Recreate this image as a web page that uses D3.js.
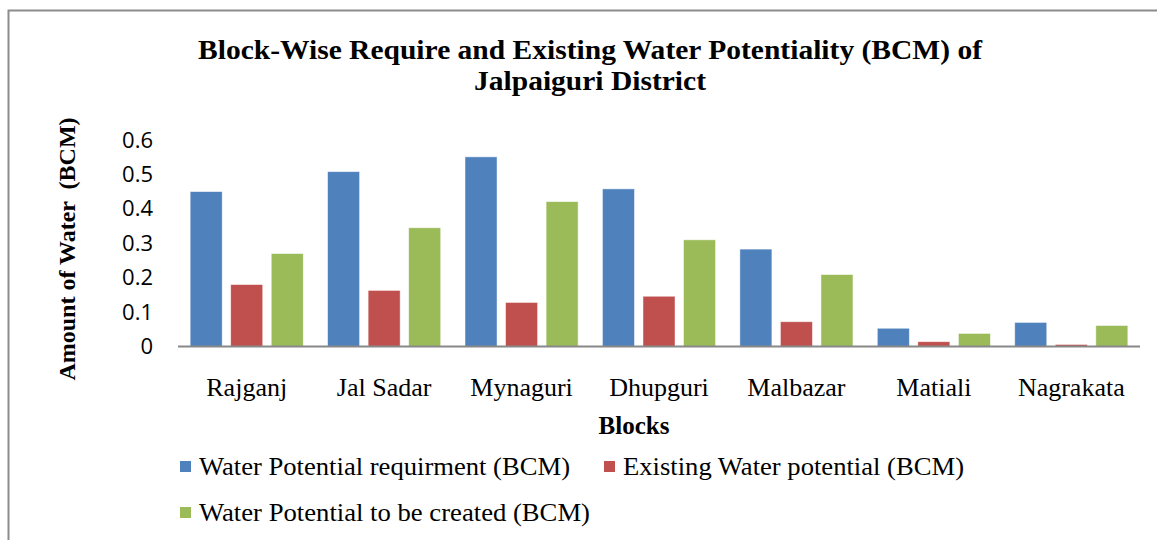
<!DOCTYPE html>
<html>
<head>
<meta charset="utf-8">
<script src="https://cdn.jsdelivr.net/npm/d3@7"></script>
<style>
  body { margin: 0; background: #fff; }
  svg { display: block; }
</style>
</head>
<body>
<div id="chart"></div>
<script>
const blocks = ["Rajganj", "Jal Sadar", "Mynaguri", "Dhupguri", "Malbazar", "Matiali", "Nagrakata"]
const seriesNames = ["Water Potential requirment (BCM)", "Existing Water potential (BCM)", "Water Potential to be created (BCM)"]
const requirment = [0.45, 0.508, 0.551, 0.458, 0.283, 0.053, 0.070]
const existing = [0.18, 0.163, 0.128, 0.146, 0.072, 0.014, 0.006]
const toBeCreated = [0.27, 0.345, 0.421, 0.31, 0.209, 0.038, 0.061]
const yTicks = [0, 0.1, 0.2, 0.3, 0.4, 0.5, 0.6]
const colors = ["#4f81bd", "#c0504d", "#9bbb59"]

const serif = "'Liberation Serif', 'Times New Roman', serif"

drawChart("#chart")

function drawChart(id){
    const canvas = { width: 1157, height: 540, left: 178, right: 1140, top: 140, bottom: 346.5 }
    const svg = d3.select(id).append("svg").attr("width", canvas.width).attr("height", canvas.height)

    // outer frame (runs off the right and bottom edges)
    svg.append("rect").attr("x", 8.5).attr("y", 10.5).attr("width", 1200).attr("height", 600)
      .attr("fill", "none").attr("stroke", "#8c8c8c").attr("stroke-width", 2)

    const rows = blocks.map((b, i) => ({ block: b, values: [requirment[i], existing[i], toBeCreated[i]] }))

    const x = d3.scaleBand().domain(blocks).range([canvas.left, canvas.right]).padding(0)
    const xs = d3.scaleBand().domain(d3.range(3)).range([0, x.bandwidth()]).paddingInner(0.21).paddingOuter(0.3)
    const y = d3.scaleLinear().domain([0, 0.6]).range([canvas.bottom, canvas.top])

    drawTitle(svg)

    const groups = svg.selectAll(".grp").data(rows).enter().append("g").attr("class", "grp")
      .attr("transform", d => `translate(${x(d.block)},0)`)
    groups.selectAll("rect").data(d => d.values).enter().append("rect")
      .attr("x", (d, j) => xs(j)).attr("width", xs.bandwidth())
      .attr("y", d => y(d)).attr("height", d => y(0) - y(d))
      .attr("fill", (d, j) => colors[j])
      .attr("stroke", "#fff").attr("stroke-opacity", 0.6).attr("stroke-width", 0.8)

    // baseline
    svg.append("line").attr("x1", canvas.left).attr("x2", canvas.right)
      .attr("y1", y(0)).attr("y2", y(0)).attr("stroke", "#888").attr("stroke-width", 2)

    // y tick labels
    const yAxis = d3.axisLeft(y).tickValues(yTicks).tickFormat(d => d === 0 ? "0" : d3.format(".1f")(d)).tickSize(0).tickPadding(0)
    const ya = svg.append("g").attr("transform", `translate(153,0)`).call(yAxis)
    ya.select(".domain").remove()
    ya.selectAll("text").attr("font-family", "'Open Sans', 'Noto Sans', sans-serif").attr("font-size", "22px").attr("fill", "#000")

    // x category labels
    const xAxis = d3.axisBottom(x).tickSize(0).tickPadding(0)
    const xa = svg.append("g").attr("transform", `translate(0,378)`).call(xAxis)
    xa.select(".domain").remove()
    xa.selectAll("text").attr("font-family", serif).attr("font-size", "26px").attr("fill", "#000")

    svg.append("text").attr("x", 634).attr("y", 434).attr("text-anchor", "middle")
      .attr("font-family", serif).attr("font-weight", "bold").attr("font-size", "25px").text("Blocks")

    svg.append("text").attr("transform", "translate(75,249) rotate(-90)").attr("text-anchor", "middle")
      .attr("font-family", serif).attr("font-weight", "bold").attr("font-size", "24px")
      .attr("xml:space", "preserve").text("Amount of Water  (BCM)")

    drawLegend(svg)
}

function drawTitle(svg){
    const t = svg.append("text").attr("text-anchor", "middle")
      .attr("font-family", serif).attr("font-weight", "bold").attr("font-size", "27px")
    t.append("tspan").attr("x", 590).attr("y", 59).attr("textLength", 784).attr("lengthAdjust", "spacingAndGlyphs")
      .text("Block-Wise Require and Existing Water Potentiality (BCM) of")
    t.append("tspan").attr("x", 590).attr("y", 90).attr("textLength", 232).attr("lengthAdjust", "spacingAndGlyphs")
      .text("Jalpaiguri District")
}

function drawLegend(svg){
    const items = [
        { x: 180, y: 467, w: 371 },
        { x: 604, y: 467, w: 341 },
        { x: 180, y: 513, w: 391 }
    ]
    const g = svg.selectAll(".legend").data(seriesNames).enter().append("g").attr("class", "legend")
      .attr("transform", (d, i) => `translate(${items[i].x},${items[i].y})`)
    g.append("rect").attr("x", 0).attr("y", -6).attr("width", 11).attr("height", 11).attr("fill", (d, i) => colors[i])
    g.append("text").attr("x", 19).attr("y", 8)
      .attr("font-family", serif).attr("font-size", "25px")
      .attr("textLength", (d, i) => items[i].w).attr("lengthAdjust", "spacingAndGlyphs")
      .text(d => d)
}
</script>
</body>
</html>
